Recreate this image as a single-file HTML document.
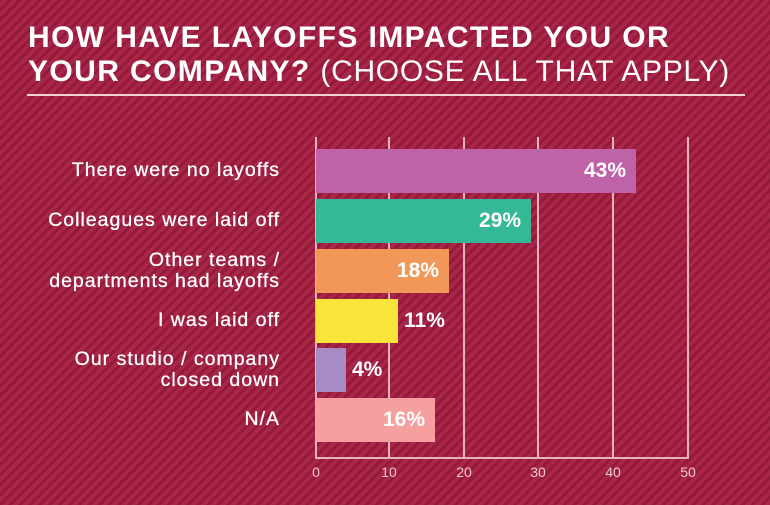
<!DOCTYPE html>
<html><head><style>
body{margin:0}
#c{position:relative;width:770px;height:505px;overflow:hidden;background:#a4203f;
background-image:repeating-linear-gradient(-45deg,#a8264a 0 4px,#951a38 4px 7px);font-family:"Liberation Sans",sans-serif;color:#fff}
.t{position:absolute;left:28px;font-weight:bold;font-size:30px;letter-spacing:1.4px;white-space:nowrap}
.t span{font-weight:normal;letter-spacing:0.7px}
.ul{position:absolute;left:27px;top:94px;width:718px;height:2px;background:#f2d0d8}
.g{position:absolute;top:137px;width:2px;height:322px;background:#e5b3bf}
.ax{position:absolute;left:315px;top:457px;width:374px;height:2px;background:#e5b3bf}
.tk{position:absolute;top:464px;font-size:14px;color:#f0c8d0;width:30px;text-align:center}
.b{position:absolute;left:316px;height:44px;font-weight:bold;font-size:21px;line-height:44px;text-align:right;box-sizing:border-box;padding-right:10px}
.o{position:absolute;font-weight:bold;font-size:21px;line-height:44px}
.l{position:absolute;right:490px;font-size:19.5px;letter-spacing:1px;text-align:right;line-height:21px;color:#fff;white-space:nowrap;-webkit-text-stroke:0.3px #fff}
</style></head><body><div id="c">
<div class="t" style="top:21px">HOW HAVE LAYOFFS IMPACTED YOU OR</div>
<div class="t" style="top:55px">YOUR COMPANY? <span>(CHOOSE ALL THAT APPLY)</span></div>
<div class="ul"></div>
<div class="g" style="left:315px"></div><div class="g" style="left:388px"></div><div class="g" style="left:463px"></div><div class="g" style="left:537px"></div><div class="g" style="left:612px"></div><div class="g" style="left:687px"></div>
<div class="ax"></div>
<div class="tk" style="left:301px">0</div><div class="tk" style="left:374px">10</div><div class="tk" style="left:449px">20</div><div class="tk" style="left:523px">30</div><div class="tk" style="left:598px">40</div><div class="tk" style="left:673px">50</div>
<div class="b" style="top:149px;width:320px;background:#c062a8">43%</div>
<div class="b" style="top:199px;width:215px;background:#35b896">29%</div>
<div class="b" style="top:249px;width:133px;background:#f19858">18%</div>
<div class="b" style="top:299px;width:82px;background:#f9e43c"></div><div class="o" style="left:404px;top:299px">11%</div>
<div class="b" style="top:348px;width:30px;background:#a78bc5"></div><div class="o" style="left:352px;top:348px">4%</div>
<div class="b" style="top:398px;width:119px;background:#f5a09e">16%</div>
<div class="l" style="top:160px">There were no layoffs</div>
<div class="l" style="top:210px">Colleagues were laid off</div>
<div class="l" style="top:250px">Other teams /<br>departments had layoffs</div>
<div class="l" style="top:310px">I was laid off</div>
<div class="l" style="top:349px">Our studio / company<br>closed down</div>
<div class="l" style="top:409px">N/A</div>
</div></body></html>
